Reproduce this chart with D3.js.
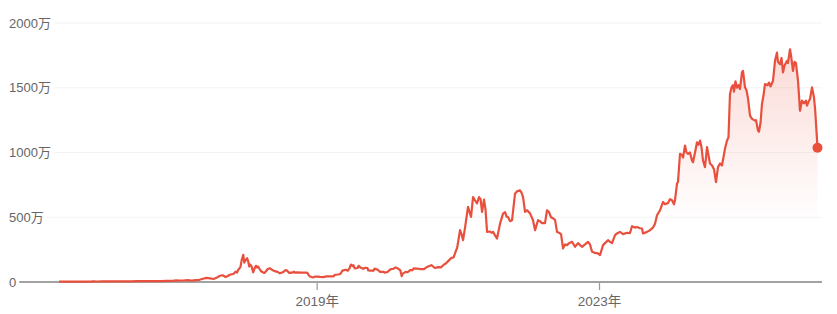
<!DOCTYPE html>
<html>
<head>
<meta charset="utf-8">
<script src="https://cdn.jsdelivr.net/npm/d3@7"></script>
<style>
  body { margin: 0; background: #fff; }
  svg { display: block; font-family: "Liberation Sans", Arial, "Noto Sans CJK SC", sans-serif; }
</style>
</head>
<body>
<svg id="fig" width="837" height="314"></svg>
<script>
// time as decimal years, price in 万円
const years = [
  2015.35, 2015.45, 2015.54, 2015.64, 2015.72, 2015.80, 2015.84, 2015.89, 2015.96,
  2016.04, 2016.12, 2016.21, 2016.29, 2016.37, 2016.46, 2016.54, 2016.62, 2016.71, 2016.79, 2016.87, 2016.96,
  2017.01, 2017.05, 2017.11, 2017.17, 2017.23, 2017.29, 2017.34, 2017.39, 2017.44, 2017.49, 2017.54, 2017.58,
  2017.63, 2017.67, 2017.71, 2017.74, 2017.78, 2017.82, 2017.85, 2017.87, 2017.89, 2017.92, 2017.94, 2017.95,
  2017.96, 2017.975, 2017.99,
  2018.015, 2018.03, 2018.045, 2018.055, 2018.075, 2018.10, 2018.125, 2018.14, 2018.155, 2018.17, 2018.21,
  2018.245, 2018.26, 2018.285, 2018.31, 2018.34, 2018.38, 2018.41, 2018.44, 2018.48, 2018.52, 2018.56, 2018.58,
  2018.61, 2018.65, 2018.68, 2018.69, 2018.73, 2018.77, 2018.80, 2018.84, 2018.87, 2018.885, 2018.905, 2018.93,
  2018.955, 2018.98,
  2019.005, 2019.05, 2019.09, 2019.14, 2019.19, 2019.24, 2019.255, 2019.30, 2019.335, 2019.365, 2019.41, 2019.44,
  2019.465, 2019.485, 2019.51, 2019.52, 2019.54, 2019.58, 2019.595, 2019.62, 2019.66, 2019.69, 2019.72, 2019.73,
  2019.765, 2019.805, 2019.82, 2019.865, 2019.90, 2019.95, 2019.965,
  2020.0, 2020.045, 2020.085, 2020.12, 2020.15, 2020.185, 2020.205, 2020.22, 2020.26, 2020.29, 2020.33, 2020.355,
  2020.375, 2020.42, 2020.475, 2020.52, 2020.57, 2020.625, 2020.675, 2020.72, 2020.76, 2020.805, 2020.83, 2020.87,
  2020.905, 2020.94, 2020.975, 2020.989,
  2021.031, 2021.052, 2021.074, 2021.102, 2021.144, 2021.187, 2021.215, 2021.244, 2021.272, 2021.300, 2021.322,
  2021.343, 2021.371, 2021.392, 2021.414, 2021.456, 2021.477, 2021.499, 2021.527, 2021.555, 2021.598, 2021.640,
  2021.669, 2021.690, 2021.711, 2021.739, 2021.768, 2021.810, 2021.839, 2021.881, 2021.902, 2021.924, 2021.952,
  2021.980,
  2022.023, 2022.065, 2022.094, 2022.136, 2022.164, 2022.193, 2022.235, 2022.263, 2022.292, 2022.320, 2022.348,
  2022.377, 2022.405, 2022.433, 2022.462, 2022.490, 2022.518, 2022.547, 2022.575, 2022.618, 2022.660, 2022.703,
  2022.731, 2022.759, 2022.802, 2022.844, 2022.873, 2022.901, 2022.943, 2022.986,
  2023.014, 2023.057, 2023.085, 2023.127, 2023.156, 2023.184, 2023.227, 2023.255, 2023.297, 2023.340, 2023.397,
  2023.439, 2023.467, 2023.510, 2023.538, 2023.581, 2023.609, 2023.623, 2023.680, 2023.722, 2023.765, 2023.793,
  2023.822, 2023.864, 2023.907, 2023.935, 2023.977,
  2024.006, 2024.034, 2024.062, 2024.076, 2024.105, 2024.119, 2024.147, 2024.176, 2024.190, 2024.218, 2024.239,
  2024.261, 2024.289, 2024.317, 2024.331, 2024.360, 2024.388, 2024.409, 2024.431, 2024.452, 2024.473, 2024.501,
  2024.530, 2024.551, 2024.572, 2024.601, 2024.629, 2024.657, 2024.685, 2024.714, 2024.742, 2024.785, 2024.813,
  2024.834, 2024.855, 2024.877, 2024.898, 2024.912, 2024.933, 2024.955, 2024.976, 2024.997,
  2025.025, 2025.040, 2025.068, 2025.089, 2025.110, 2025.139, 2025.167, 2025.210, 2025.224, 2025.252, 2025.266,
  2025.288, 2025.309, 2025.330, 2025.351, 2025.387, 2025.408, 2025.429, 2025.465, 2025.493, 2025.521, 2025.535,
  2025.564, 2025.585, 2025.606, 2025.627, 2025.663, 2025.677, 2025.705, 2025.720, 2025.748, 2025.769, 2025.790,
  2025.819, 2025.847, 2025.875, 2025.904, 2025.932, 2025.946, 2025.975, 2025.989,
  2026.017, 2026.045, 2026.062, 2026.095
];

const prices = [
  3.0, 2.9, 3.5, 2.9, 2.8, 3.2, 5.0, 3.9, 5.2,
  4.6, 4.7, 4.6, 4.8, 5.0, 7.5, 7.0, 6.0, 6.5, 7.0, 8.0, 8.7,
  12, 10.5, 11.5, 14, 11, 14, 17, 25, 32, 28, 23, 32,
  48, 52, 38, 46, 58, 62, 80, 72, 95, 115, 175, 190,
  210, 150, 165,
  185, 160, 120, 135, 125, 75, 110, 125, 112, 120, 85,
  72, 70, 85, 102, 105, 90, 82, 80, 67, 75, 92, 88,
  70, 72, 80, 72, 74, 73, 72, 73, 70, 55, 43, 38,
  36, 42,
  42, 39, 38, 43, 43, 44, 55, 58, 62, 88, 95, 87,
  105, 135, 122, 130, 105, 108, 125, 112, 102, 110, 108, 90,
  88, 88, 103, 95, 78, 78, 72,
  77, 97, 102, 113, 105, 90, 45, 65, 78, 77, 93, 90,
  105, 104, 100, 99, 118, 130, 108, 115, 113, 135, 143, 165,
  185, 190, 245, 260,
  400, 370, 323, 420, 580, 502, 656, 630, 608, 656, 640,
  541, 636, 560, 387, 390, 380, 387, 360, 336, 451, 528,
  540, 505, 502, 470, 477, 682, 700, 708, 690, 656, 541,
  554,
  530, 477, 400, 477, 470, 454, 454, 554, 540, 500, 492,
  480, 387, 380, 370, 259, 290, 285, 300, 310, 272, 300,
  285, 272, 290, 310, 290, 233, 225, 221,
  208, 285, 300, 323, 310, 300, 362, 375, 387, 370, 380,
  378, 431, 420, 425, 415, 413, 375, 387, 400, 420, 450,
  515, 554, 618, 600, 610,
  640, 631, 600, 631, 762, 772, 990, 980, 960, 1054, 1000,
  990, 1000, 938, 925, 1000, 1079, 1060, 1092, 1040, 938, 887,
  1041, 980, 915, 900, 870, 772, 887, 915, 900, 1031, 1092,
  1118, 1450, 1503, 1520, 1470, 1550, 1500, 1520, 1490,
  1618, 1630, 1503, 1480, 1420, 1285, 1260, 1246, 1250, 1169, 1160,
  1230, 1377, 1440, 1528, 1520, 1540, 1510, 1554, 1708, 1772, 1700,
  1682, 1730, 1618, 1670, 1708, 1690, 1797, 1750, 1631, 1700, 1690,
  1554, 1323, 1400, 1380, 1400, 1362, 1400, 1413,
  1503, 1426, 1330, 1036
];

const yTicks = [0, 500, 1000, 1500, 2000];
const xTicks = [2019, 2023];

const lineColor = '#e8503d';

const svg = d3.select('#fig');
const data = years.map((t, i) => ({t: t, v: prices[i]}));

const x = d3.scaleLinear().domain(d3.extent(years)).range([59, 817.5]);
const y = d3.scaleLinear().domain([0, 2000]).range([282, 23]);

// fill gradient under the line
const grad = svg.append('defs').append('linearGradient')
    .attr('id', 'fade')
    .attr('gradientUnits', 'userSpaceOnUse')
    .attr('x1', 0).attr('x2', 0)
    .attr('y1', y(2000)).attr('y2', y(450));
grad.append('stop').attr('offset', 0).attr('stop-color', lineColor).attr('stop-opacity', 0.24);
grad.append('stop').attr('offset', 1).attr('stop-color', lineColor).attr('stop-opacity', 0);

// y labels + grid
const yg = svg.append('g');
yTicks.forEach(v => {
    const label = yg.append('text')
        .attr('x', 9)
        .attr('y', y(v))
        .attr('dy', '0.35em')
        .attr('fill', '#666')
        .attr('font-size', 13)
        .text(v === 0 ? '0' : v + '万');
    const w = label.node().getComputedTextLength();
    yg.append('line')
        .attr('x1', 9 + w + 3)
        .attr('x2', 822)
        .attr('y1', y(v)).attr('y2', y(v))
        .attr('stroke', v === 0 ? '#a2a2a2' : '#f3f3f3')
        .attr('stroke-width', v === 0 ? 2 : 1.2);
});

// x axis
const xAxis = svg.append('g')
    .attr('transform', `translate(0,${y(0) + 1})`)
    .call(d3.axisBottom(x).tickValues(xTicks).tickFormat(d => d + '年').tickSize(7));
xAxis.select('.domain').remove();
xAxis.selectAll('.tick line').attr('stroke', '#999').attr('stroke-width', 1.2);
xAxis.selectAll('.tick text')
    .attr('fill', '#666')
    .attr('font-size', 13.5)
    .attr('font-family', '"Liberation Sans", Arial, "Noto Sans CJK SC", sans-serif')
    .attr('dy', '0.95em');

// area + line
svg.append('path')
    .datum(data)
    .attr('fill', 'url(#fade)')
    .attr('d', d3.area().x(d => x(d.t)).y0(y(0)).y1(d => y(d.v)));

svg.append('path')
    .datum(data)
    .attr('fill', 'none')
    .attr('stroke', lineColor)
    .attr('stroke-width', 2.2)
    .attr('stroke-linejoin', 'round')
    .attr('d', d3.line().x(d => x(d.t)).y(d => y(d.v)));

const last = data[data.length - 1];
svg.append('circle')
    .attr('cx', x(last.t))
    .attr('cy', y(last.v))
    .attr('r', 5)
    .attr('fill', lineColor);
</script>
</body>
</html>
